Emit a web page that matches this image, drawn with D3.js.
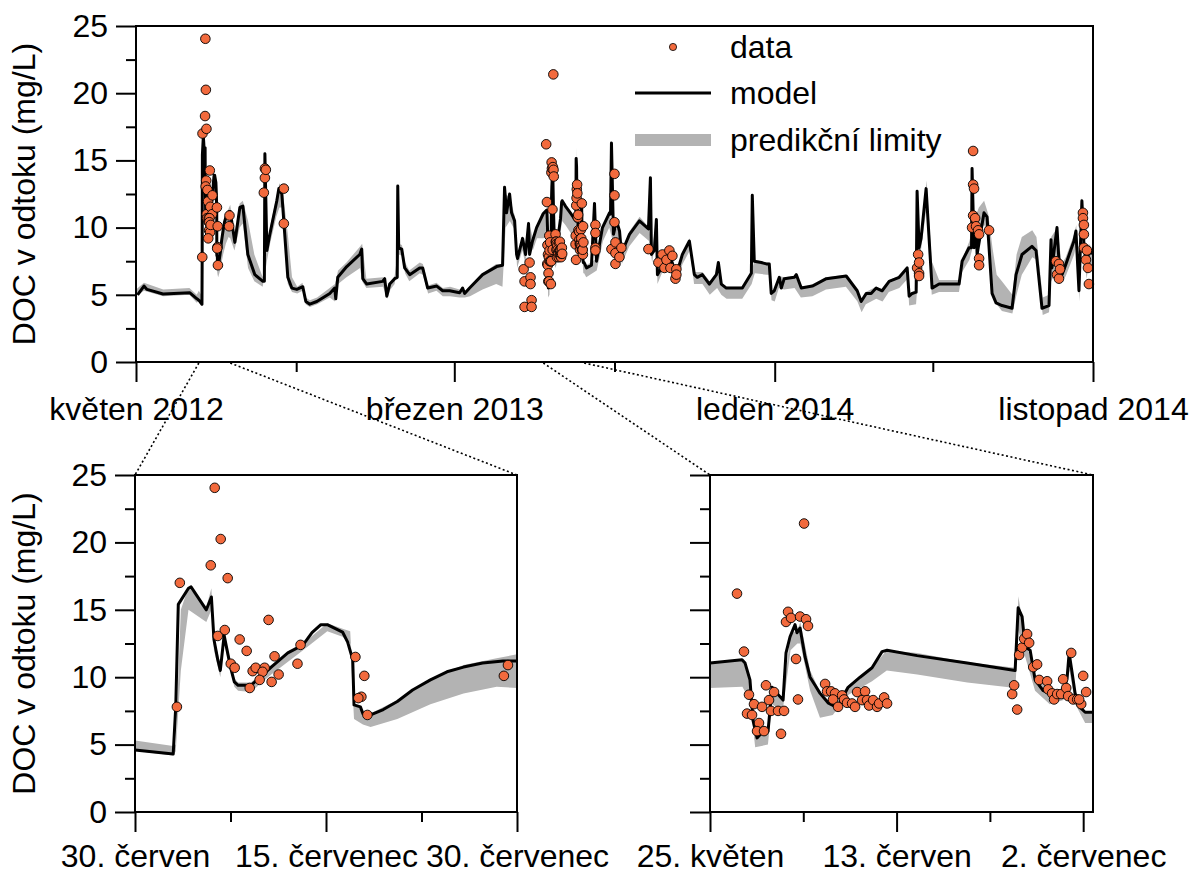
<!DOCTYPE html>
<html>
<head>
<meta charset="utf-8">
<script src="https://cdn.jsdelivr.net/npm/d3@7"></script>
<style>
  body { margin: 0; background: #fff; }
  text { font-family: "Liberation Sans", Arial, sans-serif; }
</style>
</head>
<body>
<svg width="1193" height="873"></svg>
<script>
// all times are days since 1 May 2012

// model, band and data outside the two zoom windows
var modelDay = [1.5, 7.6, 10.5, 25.8, 51.5, 58.2,
  94.4, 99.2, 102.1, 106.8, 113.5, 121.2, 122.6, 123.1, 125.0, 127.8, 134.5, 136.4, 139.3, 145.0, 148.8, 153.6, 159.3, 162.2, 166.0, 172.7,
  185.1, 189.8, 190.8, 192.7, 201.3, 213.7, 215.6, 216.6, 220.4, 235.6, 237.5, 239.5, 242.3, 247.1, 249.5, 250.0, 250.9, 253.8, 256.6, 261.4,
  270.9, 273.8, 278.6, 287.2, 292.9, 299.6, 309.1, 311.9, 313.9, 318.6, 331.0, 344.4, 350.1, 352.0, 353.9, 356.8, 358.7, 361.6, 363.5, 364.4,
  369.2, 372.1, 374.9, 375.9, 378.7, 382.6,
  430.3, 435.0, 437.9, 439.8, 445.5, 452.2, 453.2, 454.1, 456.0, 458.9, 461.8, 463.7, 467.5, 471.3, 480.8, 489.4, 491.3, 492.3, 495.1, 497.0,
  498.0, 501.8, 506.6, 509.4, 516.1, 521.8, 528.5, 533.3, 536.1, 540.9, 547.6, 554.3, 556.2, 559.0, 563.8, 579.1, 587.7, 588.6, 590.5, 597.2,
  602.0, 604.8, 606.7, 609.6, 614.4, 616.3, 619.1, 628.7, 630.6, 635.4, 645.9, 659.3, 678.3, 688.8, 692.6, 697.4, 702.1, 706.9, 712.6, 719.3,
  728.9, 736.5, 738.4, 741.3, 745.1, 746.0, 747.9, 749.8, 754.6, 760.3, 767.0, 786.1, 789.0, 795.6, 798.0, 798.5, 800.4, 802.3, 803.3, 809.9,
  812.8, 817.6, 821.4, 827.1, 836.7, 840.5, 846.2, 855.7, 859.6, 865.3, 872.0, 873.9, 874.8, 879.6, 881.5, 884.4, 888.2, 895.8, 897.7, 900.6,
  903.4, 905.3, 908.2, 910.1, 913.0];
var modelVal = [5.0, 5.65, 5.4, 5.06, 5.15, 4.7,
  8.9, 11.5, 11.6, 8.0, 6.5, 6.0, 6.0, 15.5, 8.3, 9.5, 12.0, 12.9, 12.5, 6.3, 5.5, 5.4, 5.6, 4.5, 4.3, 4.5,
  5.1, 5.5, 4.7, 6.3, 7.1, 8.0, 8.4, 6.2, 5.8, 6.0, 6.2, 4.9, 5.8, 6.2, 6.3, 13.1, 8.5, 8.4, 7.0, 6.5,
  7.0, 7.0, 5.5, 5.65, 5.3, 5.3, 5.15, 5.5, 5.1, 5.5, 6.5, 7.1, 7.2, 13.0, 11.1, 12.5, 11.1, 10.5, 8.0, 7.7,
  9.2, 8.0, 10.3, 8.0, 9.0, 10.0,
  7.0, 7.2, 11.8, 7.5, 10.0, 11.1, 11.0, 16.3, 9.5, 10.5, 9.75, 8.0, 8.8, 9.5, 10.5, 9.9, 13.7, 8.0, 8.3, 10.6,
  6.5, 7.0, 8.3, 8.0, 6.5, 8.0, 9.0, 6.5, 6.3, 6.5, 5.8, 6.5, 7.4, 5.8, 5.5, 5.5, 6.6, 12.4, 7.5, 7.4,
  7.3, 7.3, 5.1, 5.3, 6.3, 5.5, 6.2, 6.3, 6.5, 5.5, 5.65, 6.2, 6.4, 5.3, 4.5, 5.1, 5.1, 5.5, 5.3, 6.0,
  6.3, 7.0, 4.9, 5.1, 5.2, 12.7, 8.5, 9.2, 12.9, 5.5, 5.8, 5.8, 7.5, 8.5, 8.5, 14.4, 8.5, 10.5, 8.0, 11.1,
  10.8, 5.1, 4.4, 4.2, 4.0, 6.5, 8.0, 8.6, 8.3, 4.0, 4.2, 9.1, 7.0, 10.0, 7.5, 6.5, 7.3, 9.0, 9.75, 5.3,
  12.0, 8.8, 7.0, 8.5, 8.0];

var bandDay = [0, 7.6, 26, 51, 58,
  94, 99, 102, 107, 113, 121, 125, 128, 134, 137, 140, 145, 149, 154, 159, 162, 166, 173, 185, 190, 193, 201, 214, 216, 220,
  236, 240, 243, 247, 251, 254, 257, 261, 271, 274, 279, 287, 293, 300, 309, 314, 319, 331, 344, 350, 353, 357, 362, 364, 369,
  372, 375, 379, 383,
  430, 440, 446, 452, 456, 462, 464, 471, 481, 490, 493, 497, 498, 507, 510, 516, 522, 529, 533, 541, 548, 555, 559, 564, 579,
  588, 591, 602, 605, 607, 610, 614, 619, 629, 635, 646, 659, 678, 689, 693, 697, 707, 713, 719, 729, 737, 738.4, 745, 748, 750,
  755, 760, 767, 786, 789, 796, 800, 805, 810, 814, 818, 822, 827, 837, 841, 846, 856, 860, 866, 872, 874, 880, 884, 888, 896,
  898, 901, 903, 905, 908, 910, 913];
var bandLo = [4.9, 5.3, 4.9, 5.0, 4.4,
  8.3, 10.0, 10.3, 7.0, 6.0, 5.6, 7.5, 8.8, 10.8, 11.5, 11.5, 5.8, 5.2, 5.1, 5.3, 4.3, 4.1, 4.3, 4.8, 4.5, 5.8, 6.3, 7.0, 6.0, 5.5,
  5.6, 4.7, 5.4, 5.8, 8.0, 7.9, 6.6, 6.0, 6.6, 6.5, 5.1, 5.3, 4.9, 4.9, 4.8, 4.8, 4.9, 5.4, 5.8, 5.6, 10.0, 10.5, 9.8, 7.0, 8.3,
  7.3, 9.5, 8.3, 9.2,
  6.3, 6.8, 9.0, 10.0, 8.8, 9.0, 7.3, 8.6, 9.6, 9.0, 7.4, 9.6, 5.8, 7.5, 7.3, 5.8, 7.3, 8.3, 5.8, 5.8, 5.0, 5.5, 5.0, 4.7, 4.7,
  5.8, 6.6, 6.5, 6.5, 4.6, 4.5, 5.5, 5.4, 5.5, 4.8, 4.9, 5.4, 5.6, 4.5, 3.7, 4.3, 4.7, 4.5, 5.2, 5.5, 6.2, 4.2, 4.3, 7.5, 8.5,
  11.5, 5.0, 5.2, 5.2, 6.7, 7.6, 8.8, 9.8, 10.2, 9.5, 5.2, 4.3, 3.8, 3.6, 5.0, 6.5, 7.8, 7.6, 3.5, 3.7, 6.0, 6.8, 5.9, 6.4, 8.0,
  8.7, 4.5, 10.0, 7.8, 6.2, 7.5, 7.0];
var bandHi = [5.4, 5.9, 5.4, 5.5, 5.0,
  9.5, 11.8, 12.0, 10.5, 8.0, 6.3, 8.5, 10.0, 12.3, 13.3, 12.8, 9.5, 6.3, 5.6, 5.9, 4.8, 4.6, 4.8, 5.5, 5.8, 6.8, 7.4, 8.6, 8.8, 6.2,
  6.3, 5.2, 6.0, 6.4, 8.8, 8.7, 7.4, 6.8, 7.4, 7.3, 5.7, 5.9, 5.5, 5.6, 5.4, 5.3, 5.6, 6.6, 7.3, 7.3, 12.5, 12.2, 10.8, 8.0, 9.3,
  8.2, 10.5, 9.2, 10.2,
  7.2, 7.7, 10.2, 11.2, 9.8, 10.0, 8.2, 9.7, 10.8, 10.0, 8.3, 10.8, 6.7, 8.5, 8.2, 6.7, 8.2, 9.2, 6.7, 6.7, 6.0, 6.7, 5.9, 5.6, 5.6,
  6.8, 7.6, 7.4, 7.4, 5.3, 5.4, 6.4, 6.3, 6.4, 5.6, 5.7, 6.3, 6.5, 5.4, 4.6, 5.2, 5.6, 5.4, 6.1, 6.4, 7.1, 5.1, 5.3, 9.0, 9.6,
  13.5, 7.5, 6.1, 6.1, 7.6, 9.0, 10.5, 11.5, 12.0, 11.0, 8.5, 6.5, 6.0, 5.0, 8.0, 9.3, 9.8, 9.3, 4.8, 5.0, 9.3, 10.0, 7.3, 7.8, 9.5,
  10.2, 6.5, 12.3, 9.3, 7.5, 8.8, 8.5];

var obsDay = [122.1, 123.1, 123.1, 124.0, 141.2, 141.2,
  370.2, 371.1, 371.1, 375.9, 376.8, 376.8, 377.8, 377.8,
  438.8, 438.8, 438.8, 438.8, 454.1, 457.0, 457.0, 457.0, 457.9, 457.9, 457.9, 461.7, 463.6,
  489.4, 498.9, 502.8, 504.7, 506.6, 509.4, 510.4, 512.3, 515.2, 516.1, 516.1,
  746.0, 747.0, 747.9, 747.9, 747.9,
  798.5, 799.5, 799.5, 799.5, 800.4, 801.4, 802.3, 804.2, 805.2, 805.2, 805.2, 814.7,
  878.6, 879.6, 881.5, 881.5, 882.5,
  904.4, 904.4, 905.3, 905.3, 905.3, 907.3, 908.2, 909.2, 910.1];
var obsVal = [12.6, 14.4, 13.7, 14.3, 12.9, 10.3,
  6.9, 6.0, 4.1, 7.4, 6.3, 5.8, 4.6, 4.1,
  10.2, 9.6, 8.5, 8.3, 8.4, 14.0, 12.4, 10.4, 8.9, 8.1, 7.3, 7.8, 8.5,
  8.4, 7.4, 8.0, 7.0, 7.6, 8.3, 7.0, 7.9, 6.2, 6.9, 6.5,
  7.0, 8.0, 7.4, 6.6, 6.4,
  10.0, 15.7, 13.2, 10.9, 12.9, 10.7, 10.1, 9.8, 9.5, 7.7, 7.2, 9.8,
  7.5, 6.5, 7.3, 6.2, 6.9,
  11.1, 10.7, 10.2, 9.5, 8.5, 7.6, 8.3, 7.0, 5.8];

// zoom window A: 30 June - 30 July 2012
var zoomAModelDay = [60.0, 63.0, 63.2, 63.4, 64.2, 64.4, 65.6, 66.0, 66.2, 66.5, 66.7, 67.0, 67.5, 67.8, 68.1, 69.1, 69.6, 70.7, 72.0, 73.2,
  73.9, 74.6, 75.1, 76.3, 76.7, 77.1, 77.2, 77.7, 77.9, 78.5, 79.5, 80.6, 81.8, 83.2, 84.5, 85.8, 87.3, 88.9, 90.0];
var zoomAModelVal = [4.6, 4.3, 7.8, 15.4, 16.6, 16.7, 15.0, 15.95, 12.8, 11.3, 10.5, 13.1, 10.75, 9.65, 9.4, 9.4, 9.8, 10.75, 11.8, 12.4,
  13.3, 13.9, 13.9, 13.35, 12.6, 11.3, 7.95, 7.8, 7.3, 7.2, 7.6, 8.2, 9.05, 9.8, 10.4, 10.75, 11.05, 11.2, 11.2];
var zoomABandDay = [60.0, 63.0, 63.2, 63.6, 64.2, 65.6, 66.0, 66.2, 66.7, 67.0, 67.8, 68.1, 69.1, 70.7, 73.2, 75.1, 76.3, 76.9, 77.2, 77.9,
  78.5, 80.6, 83.2, 85.8, 88.4, 90.0];
var zoomABandLo = [4.55, 4.2, 4.5, 10.5, 15.0, 14.1, 15.0, 12.0, 10.0, 12.5, 9.3, 9.0, 8.9, 10.2, 12.0, 13.4, 13.0, 12.5, 6.9, 6.5,
  6.3, 6.9, 8.0, 8.8, 9.3, 9.2];
var zoomABandHi = [5.3, 4.9, 5.0, 15.0, 16.7, 15.2, 16.6, 13.0, 11.0, 13.3, 9.9, 9.6, 9.6, 10.9, 12.5, 14.0, 13.6, 13.4, 8.1, 7.5,
  7.3, 8.3, 9.9, 10.9, 11.4, 11.7];
var zoomAObsDay = [63.29, 63.52, 66.26, 66.73, 65.95, 67.28, 67.05, 66.50, 70.49, 68.22, 68.77, 67.52, 67.83, 70.96, 73.0, 72.76,
  69.24, 69.48, 70.18, 70.02, 69.79, 70.73, 71.28, 69.01, 77.31, 78.01, 77.78, 77.54, 78.25, 89.29, 88.97];
var zoomAObsVal = [7.8, 17.0, 24.05, 20.25, 18.3, 17.35, 13.5, 13.06, 14.25, 12.8, 11.95, 11.0, 10.7, 11.55, 12.4, 11.0,
  10.45, 10.7, 10.7, 10.4, 9.8, 9.65, 10.2, 9.2, 11.5, 10.1, 8.55, 8.45, 7.2, 10.9, 10.1];

// zoom window B: 25 May - 3 July 2013
var zoomBModelDay = [389.0, 392.26, 392.57, 393.07, 393.38, 393.79, 394.30, 394.91, 395.32, 395.83, 396.44, 396.74, 397.15, 397.66, 397.86,
  398.17, 398.68, 399.19, 399.70, 400.21, 401.02, 401.53, 402.24, 403.06, 404.28, 405.50, 406.52, 407.03, 410.09, 415.18, 420.07, 420.38,
  420.78, 421.09, 421.60, 422.11, 422.92, 423.64, 424.35, 424.96, 425.37, 425.57, 425.88, 426.18, 426.69, 427.20, 428.0];
var zoomBModelVal = [11.05, 11.3, 11.05, 9.8, 6.8, 5.5, 5.9, 6.0, 9.25, 8.8, 8.3, 11.8, 13.0, 13.9, 13.3,
  13.65, 11.5, 10.0, 9.4, 8.8, 8.1, 7.9, 8.1, 9.25, 10.0, 10.7, 11.9, 12.0, 11.6, 11.05, 10.5, 15.15,
  14.5, 12.25, 12.0, 9.8, 9.0, 8.8, 8.65, 8.65, 10.0, 11.8, 10.3, 8.8, 7.75, 7.4, 7.4];
var zoomBBandDay = [389.0, 392.3, 393.1, 393.6, 394.9, 395.3, 396.4, 397.2, 397.9, 398.2, 399.2, 400.2, 401.5, 403.1, 405.5, 407.0, 410.1,
  415.2, 420.1, 420.4, 421.1, 422.1, 423.6, 425.0, 425.6, 426.2, 427.2, 428.0];
var zoomBBandLo = [9.2, 9.3, 8.2, 4.8, 5.0, 8.0, 7.5, 12.0, 12.5, 12.5, 9.0, 7.0, 7.2, 8.7, 9.7, 10.5, 10.2,
  9.6, 9.2, 13.5, 11.5, 9.0, 8.0, 8.3, 10.5, 8.0, 6.6, 6.6];
var zoomBBandHi = [11.05, 11.3, 9.8, 6.2, 6.0, 9.25, 8.3, 13.2, 13.5, 14.1, 10.5, 8.9, 8.0, 9.4, 10.7, 12.0, 11.8,
  11.1, 10.7, 16.0, 12.8, 10.2, 9.0, 8.9, 11.9, 9.0, 7.5, 7.5];
var zoomBObsDay = [391.75, 392.46, 392.97, 392.77, 393.28, 393.48, 394.30, 393.99, 393.79, 394.50, 394.70, 395.01, 395.52, 395.21, 395.93,
  396.54, 396.23, 396.95, 396.74, 397.25, 397.76, 397.96, 398.17, 398.78, 398.98, 398.58, 400.72, 400.92, 401.33, 401.73, 401.53, 402.04,
  402.45, 402.65, 402.96, 403.47, 403.77, 403.98, 404.49, 404.79, 404.99, 405.20, 405.61, 406.01, 406.22, 406.73, 407.03, 419.77, 419.97,
  420.28, 420.48, 420.78, 420.99, 421.29, 421.50, 421.91, 422.31, 422.52, 423.33, 423.43, 423.84, 424.04, 424.35, 424.76, 424.96, 425.27,
  425.47, 425.78, 425.98, 426.39, 426.80, 426.59, 427.0, 427.30];
var zoomBObsVal = [16.2, 11.9, 8.7, 7.3, 7.2, 8.0, 7.8, 6.6, 6.0, 6.0, 9.4, 8.3, 8.9, 7.5, 7.5,
  7.5, 5.8, 14.85, 14.1, 14.4, 11.35, 8.35, 14.5, 14.3, 13.8, 21.4, 9.5, 8.95, 8.95, 8.8, 8.35, 7.8,
  8.65, 8.35, 8.1, 8.05, 7.8, 8.9, 8.3, 8.95, 8.3, 7.9, 8.3, 7.8, 8.05, 8.5, 8.05, 8.75, 9.4,
  7.6, 11.65, 12.2, 12.85, 13.2, 12.55, 10.75, 10.95, 9.8, 9.7, 9.1, 8.8, 8.35, 8.75, 8.75, 9.85, 9.2,
  8.6, 11.8, 8.35, 8.35, 8.0, 8.35, 10.1, 8.9];

// axes
var yMajor = [0, 5, 10, 15, 20, 25];
var yMinor = [2.5, 7.5, 12.5, 17.5, 22.5];
var topMajorDay = [0, 304, 610, 914];
var topMinorDay = [153, 457, 761];
var topLabels = ["květen 2012", "březen 2013", "leden 2014", "listopad 2014"];
var aMajorDay = [60, 75, 90];
var aMinorDay = [67.5, 82.5];
var aLabels = ["30. červen", "15. červenec", "30. červenec"];
var bMajorDay = [389, 408, 427];
var bMinorDay = [398.5, 417.5];
var bLabels = ["25. květen", "13. červen", "2. červenec"];
var legendLabels = ["data", "model", "predikční limity"];
var yTitle = "DOC v odtoku (mg/L)";

var T0 = Date.UTC(2012, 4, 1);
function day(d) { return new Date(T0 + d * 864e5); }
function pts(days, vals) { return days.map(function(d, i) { return {t: day(d), v: vals[i]}; }); }
function bnd(days, lo, hi) { return days.map(function(d, i) { return {t: day(d), lo: lo[i], hi: hi[i]}; }); }
function byT(a, b) { return a.t - b.t; }

var modelA = pts(zoomAModelDay, zoomAModelVal), modelB = pts(zoomBModelDay, zoomBModelVal);
var bandA = bnd(zoomABandDay, zoomABandLo, zoomABandHi), bandB = bnd(zoomBBandDay, zoomBBandLo, zoomBBandHi);
var obsA = pts(zoomAObsDay, zoomAObsVal), obsB = pts(zoomBObsDay, zoomBObsVal);
var modelAll = pts(modelDay, modelVal).concat(modelA, modelB).sort(byT);
var bandAll = bnd(bandDay, bandLo, bandHi).concat(bandA, bandB).sort(byT);
var obsAll = pts(obsDay, obsVal).concat(obsA, obsB);

var svg = d3.select("svg");
var FS = 32;
var dotColor = "#f26a3d", bandColor = "#b3b3b3";

function panel(p) {
  var x = d3.scaleUtc().domain([day(p.d0), day(p.d1)]).range([p.left, p.right]);
  var y = d3.scaleLinear().domain([0, 25]).range([p.bottom, p.top]);
  var g = svg.append("g");

  g.append("path").datum(p.band)
    .attr("fill", bandColor)
    .attr("d", d3.area().x(function(d) { return x(d.t); }).y0(function(d) { return y(d.lo); }).y1(function(d) { return y(d.hi); }));
  g.append("path").datum(p.model)
    .attr("fill", "none").attr("stroke", "#000").attr("stroke-width", 3).attr("stroke-linejoin", "round")
    .attr("d", d3.line().x(function(d) { return x(d.t); }).y(function(d) { return y(d.v); }));
  g.selectAll(".obs").data(p.obs).enter().append("circle")
    .attr("cx", function(d) { return x(d.t); })
    .attr("cy", function(d) { return y(d.v); })
    .attr("r", 4.8)
    .attr("fill", dotColor).attr("stroke", "#000").attr("stroke-width", 0.9);

  g.append("rect")
    .attr("x", p.left).attr("y", p.top)
    .attr("width", p.right - p.left).attr("height", p.bottom - p.top)
    .attr("fill", "none").attr("stroke", "#000").attr("stroke-width", 2);

  var yAx = d3.axisLeft(y).tickValues(yMajor).tickSize(20).tickSizeOuter(0).tickPadding(8);
  if (!p.yLabels) yAx.tickFormat("");
  var gy = g.append("g").attr("transform", "translate(" + p.left + ",0)").call(yAx);
  var gy2 = g.append("g").attr("transform", "translate(" + p.left + ",0)")
    .call(d3.axisLeft(y).tickValues(yMinor).tickSize(10).tickSizeOuter(0).tickFormat(""));

  var labels = p.labels;
  var xAx = d3.axisBottom(x).tickValues(p.major.map(day)).tickSize(20).tickSizeOuter(0).tickPadding(p.pad)
    .tickFormat(function(d, i) { return labels[i]; });
  var gx = g.append("g").attr("transform", "translate(0," + p.bottom + ")").call(xAx);
  var gx2 = g.append("g").attr("transform", "translate(0," + p.bottom + ")")
    .call(d3.axisBottom(x).tickValues(p.minor.map(day)).tickSize(10).tickSizeOuter(0).tickFormat(""));

  [gy, gy2, gx, gx2].forEach(function(a) {
    a.select(".domain").remove();
    a.selectAll("line").attr("stroke-width", 2);
    a.selectAll("text").attr("font-size", FS).attr("fill", "#000")
      .attr("font-family", "'Liberation Sans', Arial, sans-serif");
  });

  if (p.title) {
    g.append("text")
      .attr("transform", "translate(35," + ((p.top + p.bottom) / 2) + ") rotate(-90)")
      .attr("text-anchor", "middle").attr("font-size", FS)
      .text(yTitle);
  }
  return x;
}

var topP = {left: 136, right: 1093, top: 26, bottom: 362, pad: 15};
var panA = {left: 135, right: 517, top: 475, bottom: 812, pad: 12};
var panB = {left: 710, right: 1093, top: 475, bottom: 812, pad: 12};

var xTop = panel(Object.assign({d0: 0, d1: 914, band: bandAll, model: modelAll, obs: obsAll,
  major: topMajorDay, minor: topMinorDay, labels: topLabels, yLabels: true, title: true}, topP));
panel(Object.assign({d0: 60, d1: 90, band: bandA, model: modelA, obs: obsA,
  major: aMajorDay, minor: aMinorDay, labels: aLabels, yLabels: true, title: true}, panA));
panel(Object.assign({d0: 389, d1: 428, band: bandB, model: modelB, obs: obsB,
  major: bMajorDay, minor: bMinorDay, labels: bLabels, yLabels: false, title: false}, panB));

// dotted connectors from the zoom windows in the top panel
var conn = [[60, panA.left], [90, panA.right], [389, panB.left], [428, panB.right]];
svg.selectAll(".conn").data(conn).enter().append("line")
  .attr("x1", function(d) { return xTop(day(d[0])); })
  .attr("y1", topP.bottom + 1)
  .attr("x2", function(d) { return d[1]; })
  .attr("y2", panA.top)
  .attr("stroke", "#000").attr("stroke-width", 1.6).attr("stroke-dasharray", "2,2.5");

// legend
var lg = svg.append("g");
var lx = 635, lw = 76, tx = 730, rows = [47, 93, 140];
lg.append("circle").attr("cx", lx + lw / 2).attr("cy", rows[0]).attr("r", 3.6)
  .attr("fill", dotColor).attr("stroke", "#000").attr("stroke-width", 0.8);
lg.append("line").attr("x1", lx).attr("x2", lx + lw).attr("y1", rows[1]).attr("y2", rows[1])
  .attr("stroke", "#000").attr("stroke-width", 3);
lg.append("rect").attr("x", lx).attr("y", rows[2] - 6).attr("width", lw).attr("height", 12).attr("fill", bandColor);
lg.selectAll(".lt").data(legendLabels).enter().append("text")
  .attr("x", tx).attr("y", function(d, i) { return rows[i] + 11; })
  .attr("font-size", FS).text(function(d) { return d; });
</script>
</body>
</html>
